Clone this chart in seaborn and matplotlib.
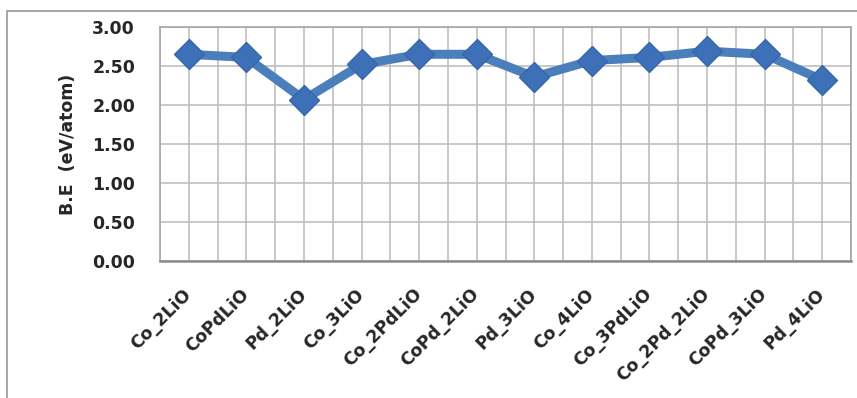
import matplotlib
matplotlib.use("Agg")
import matplotlib.pyplot as plt
from matplotlib.lines import Line2D
from matplotlib.ticker import MultipleLocator, FormatStrFormatter, FixedLocator
import seaborn as sns
import pandas as pd

categories = ["Co_2LiO", "CoPdLiO", "Pd_2LiO", "Co_3LiO", "Co_2PdLiO", "CoPd_2LiO",
              "Pd_3LiO", "Co_4LiO", "Co_3PdLiO", "Co_2Pd_2LiO", "CoPd_3LiO", "Pd_4LiO"]
be_values = [2.65, 2.61, 2.07, 2.52, 2.65, 2.65, 2.36, 2.57, 2.61, 2.69, 2.65, 2.32]
y_label = "B.E  (eV/atom)"

sns.set_theme(style="white")
plt.rcParams["font.family"] = ["DejaVu Sans"]

df = pd.DataFrame({"cat": categories, "be": be_values})

fig = plt.figure(figsize=(8.57, 3.98), dpi=100)
ax = fig.add_axes([160/857, 1 - 261/398, (851 - 160)/857, (261 - 27)/398])

line_color = "#4B7FBC"
sns.lineplot(data=df, x="cat", y="be", ax=ax, color=line_color, linewidth=6.5,
             marker="D", markersize=15, markerfacecolor="#3D70B6",
             markeredgecolor="#3566AA", markeredgewidth=1, sort=False)

ax.set_xlim(-0.5, len(categories) - 0.5)
ax.set_ylim(0, 3.0)
ax.yaxis.set_major_locator(MultipleLocator(0.5))
ax.yaxis.set_major_formatter(FormatStrFormatter("%.2f"))
ax.set_xticks(range(len(categories)))
ax.xaxis.set_minor_locator(FixedLocator([i - 0.5 for i in range(len(categories) + 1)]))
ax.grid(True, which="both", axis="x", color="#BFBFBF", linewidth=1.2)
ax.grid(True, which="major", axis="y", color="#BFBFBF", linewidth=1.2)
ax.set_axisbelow(True)
ax.set_xlabel("")
ax.set_ylabel("")

ax.tick_params(axis="both", which="both", length=0)
ax.tick_params(axis="y", pad=18, labelsize=12.5)
ax.tick_params(axis="x", pad=22, labelsize=12.5)
for lbl in ax.get_yticklabels():
    lbl.set_fontweight("bold")
ax.set_xticklabels(categories, rotation=45, ha="right", va="center",
                   rotation_mode="anchor", fontweight="bold")

for s in ["top", "right", "left"]:
    ax.spines[s].set_color("#A6A6A6")
    ax.spines[s].set_linewidth(1.2)
ax.spines["bottom"].set_color("#8C8C8C")
ax.spines["bottom"].set_linewidth(1.8)

fig.text(68/857, 1 - 144/398, y_label, rotation=90, ha="center", va="center",
         fontsize=12.5, fontweight="bold")

# outer chart border
fig.add_artist(Line2D([7/857, 7/857], [0, 1 - 11/398], color="#A0A0A0", linewidth=1.3,
                      transform=fig.transFigure))
fig.add_artist(Line2D([7/857, 1], [1 - 11/398, 1 - 11/398], color="#A0A0A0", linewidth=1.3,
                      transform=fig.transFigure))

fig.savefig("out.png", dpi=100, facecolor="white")
